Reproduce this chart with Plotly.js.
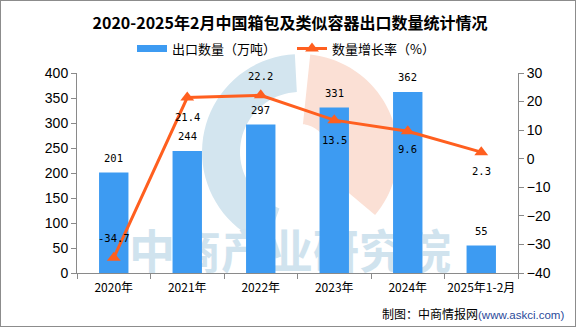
<!DOCTYPE html>
<html>
<head>
<meta charset="utf-8">
<script src="https://cdn.plot.ly/plotly-3.0.1.min.js"></script>
<style>
  html, body { margin: 0; padding: 0; background: #fff; }
  #wrap { width: 576px; height: 327px; box-sizing: border-box; border: 1px solid #8c8c8c; overflow: hidden; }
  #chart { width: 574px; height: 325px; }
</style>
</head>
<body>
<div id="wrap"><div id="chart"></div></div>
<script>
// ---- data ----
const categories = ['2020年', '2021年', '2022年', '2023年', '2024年', '2025年1-2月'];
const exportVolume = [201, 244, 297, 331, 362, 55];      // 出口数量（万吨）
const growthRate = [-34.7, 21.4, 22.2, 13.5, 9.6, 2.3];  // 数量增长率（%）
const leftTicks = [0, 50, 100, 150, 200, 250, 300, 350, 400];
const rightTicks = [-40, -30, -20, -10, 0, 10, 20, 30];

// ---- label offsets (style) ----
const barLabelShift = 15;
const rateLabelShift = [20, -19, 19, -20, -18, -19];

// ---- colours ----
const barColor = '#3D9BF2';
const lineColor = '#FF5F1F';
const axisColor = '#8a8a8a';

// ---- watermark geometry (decoration, image pixel coords) ----
const PL = 77, PR = 518, PT = 73, PB = 273;
const px = X => (X - PL) / (PR - PL);
const py = Y => (PB - Y) / (PB - PT);
function ringPath(cx, cy, rOut, rIn, a0, a1) {
  const n = 40, pts = [];
  for (let i = 0; i <= n; i++) {
    const a = (a0 + (a1 - a0) * i / n) * Math.PI / 180;
    pts.push([cx + rOut * Math.cos(a), cy - rOut * Math.sin(a)]);
  }
  for (let i = n; i >= 0; i--) {
    const a = (a0 + (a1 - a0) * i / n) * Math.PI / 180;
    pts.push([cx + rIn * Math.cos(a), cy - rIn * Math.sin(a)]);
  }
  return 'M' + pts.map(p => px(p[0]).toFixed(4) + ',' + py(p[1]).toFixed(4)).join('L') + 'Z';
}

const cjk = '"Noto Sans CJK SC", "Noto Sans", sans-serif';
const monoFont = '"DejaVu Sans Mono", monospace';
const sansFont = '"Liberation Sans", Arial, sans-serif';

const traces = [
  {
    type: 'bar', name: '出口数量（万吨）',
    x: categories, y: exportVolume,
    marker: { color: barColor },
    yaxis: 'y', hoverinfo: 'skip', showlegend: false
  },
  {
    // legend swatch for the bars (wide rectangle like the reference)
    type: 'scatter', mode: 'lines', name: '出口数量（万吨）',
    x: [null], y: [null],
    line: { color: barColor, width: 7 },
    yaxis: 'y', hoverinfo: 'skip', legendrank: 1
  },
  {
    type: 'scatter', mode: 'lines+markers', name: '数量增长率（%）',
    x: categories, y: growthRate,
    line: { color: lineColor, width: 3 },
    marker: { color: lineColor, symbol: 'triangle-up', size: 12 },
    yaxis: 'y2', hoverinfo: 'skip', legendrank: 2
  }
];

const annotations = [];
categories.forEach((c, i) => {
  annotations.push({
    x: c, y: exportVolume[i], xref: 'x', yref: 'y',
    text: String(exportVolume[i]), showarrow: false, yshift: barLabelShift,
    font: { family: monoFont, size: 10.5, color: '#000' }
  });
  annotations.push({
    x: c, y: growthRate[i], xref: 'x', yref: 'y2',
    text: String(growthRate[i]), showarrow: false, yshift: rateLabelShift[i],
    font: { family: monoFont, size: 10.5, color: '#000' }
  });
});
annotations.push({
  xref: 'paper', yref: 'paper', x: px(566), y: py(313), xanchor: 'right', yanchor: 'middle',
  showarrow: false,
  text: '制图：中商情报网<span style="color:#2b4a9a;font-family:Liberation Sans, Arial, sans-serif;font-size:11.5px">(www.askci.com)</span>',
  font: { family: cjk, size: 12, color: '#000' }
});

const shapes = [
  { type: 'path', xref: 'paper', yref: 'paper', layer: 'below',
    path: ringPath(300, 152, 98, 60, 93, 250), fillcolor: '#d3e5ef', line: { width: 0 } },
  { type: 'path', xref: 'paper', yref: 'paper', layer: 'below',
    path: ringPath(300, 152, 98, 28, -40, 84), fillcolor: '#fbe0d5', line: { width: 0 } },
  { type: 'rect', xref: 'paper', yref: 'paper', layer: 'below',
    x0: px(120), x1: px(460), y0: py(280), y1: py(230),
    fillcolor: 'rgba(0,0,0,0)', line: { width: 0 },
    label: { text: '中商产业研究院', textposition: 'middle center',
             font: { family: cjk, size: 46, color: '#d0e3ee', weight: 'bold' } } }
];

const layout = {
  width: 574, height: 325,
  margin: { l: 76, r: 57, t: 72, b: 53, pad: 0 },
  paper_bgcolor: '#fff', plot_bgcolor: 'rgba(0,0,0,0)',
  showlegend: true,
  bargap: 0.6,
  title: {
    text: '2020-2025年2月中国箱包及类似容器出口数量统计情况',
    x: 289 / 574, xref: 'container', xanchor: 'center',
    y: 1 - 22 / 325, yref: 'container', yanchor: 'middle',
    font: { family: cjk, size: 16, color: '#000', weight: 'bold' }
  },
  legend: {
    orientation: 'h', xref: 'container', yref: 'container',
    x: 131 / 574, xanchor: 'left', y: 1 - 47.5 / 325, yanchor: 'middle',
    font: { family: cjk, size: 13, color: '#000' },
    entrywidth: 115, itemwidth: 30, bgcolor: 'rgba(0,0,0,0)',
    traceorder: 'normal'
  },
  xaxis: {
    type: 'category', tickson: 'boundaries', ticks: 'outside', ticklen: 5,
    tickcolor: axisColor, showline: true, linecolor: axisColor, linewidth: 1,
    showgrid: false, zeroline: false, tickangle: 0, ticklabelstandoff: 4,
    tickfont: { family: cjk, size: 12, color: '#000' }
  },
  yaxis: {
    range: [0, 400], tickvals: leftTicks, ticks: 'outside', ticklen: 5,
    tickcolor: axisColor, showline: true, linecolor: axisColor, linewidth: 1,
    showgrid: false, zeroline: false,
    tickfont: { family: sansFont, size: 14, color: '#000' }
  },
  yaxis2: {
    overlaying: 'y', side: 'right',
    range: [-40, 30], tickvals: rightTicks, ticks: 'outside', ticklen: 5,
    tickcolor: axisColor, showline: true, linecolor: axisColor, linewidth: 1,
    showgrid: false, zeroline: false,
    tickfont: { family: sansFont, size: 14, color: '#000' }
  },
  annotations: annotations,
  shapes: shapes
};

Plotly.newPlot('chart', traces, layout, { displayModeBar: false, staticPlot: true });
</script>
</body>
</html>
